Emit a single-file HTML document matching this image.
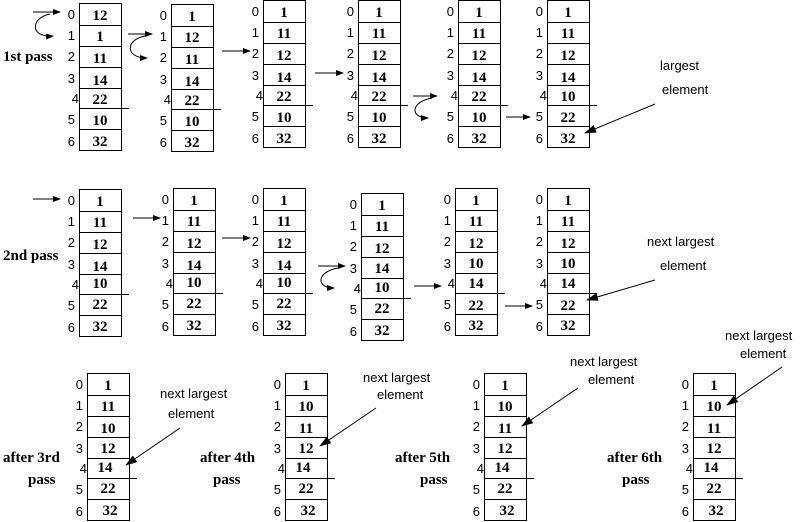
<!DOCTYPE html>
<html><head><meta charset="utf-8"><style>
html,body{margin:0;padding:0;background:#fff}
svg{display:block}
.v{font-family:"Liberation Serif",serif;font-weight:bold;font-size:15px;text-anchor:middle}
.i{font-family:"Liberation Sans",sans-serif;font-size:13px;text-anchor:end}
.l{font-family:"Liberation Serif",serif;font-weight:bold;font-size:15px}
.s{font-family:"Liberation Sans",sans-serif;font-size:13px}
</style></head><body>
<svg width="803" height="522" viewBox="0 0 803 522" xmlns="http://www.w3.org/2000/svg">
<defs>
<marker id="a" markerWidth="8" markerHeight="6" refX="7" refY="3" orient="auto" markerUnits="userSpaceOnUse"><path d="M0,0 L8,3 L0,6 z" fill="#000"/></marker>
<marker id="b" markerWidth="12" markerHeight="10" refX="11" refY="5" orient="auto" markerUnits="userSpaceOnUse"><path d="M0,1 L12,5 L0,9 z" fill="#000"/></marker>
<g id="box" fill="none" stroke="#000" stroke-width="1">
<rect x="0.5" y="0.5" width="42" height="147"/>
<path d="M0,22.5H42M0,43.5H42M0,64.5H42M0,85.5H42M0,105.5H50M0,126.5H42"/>
</g>
<g id="idx" class="i">
<text x="-4" y="16">0</text><text x="-4" y="37">1</text><text x="-4" y="58">2</text><text x="-4" y="80">3</text><text x="0" y="100">4</text><text x="-4" y="121">5</text><text x="-4" y="143">6</text>
</g>
</defs>
<g stroke="#000" fill="none" stroke-width="1">
</g>

<!-- Row 1 -->
<text class="l" x="3" y="61">1st pass</text>
<g transform="translate(79,3)"><use href="#box"/><use href="#idx"/><g class="v"><text x="21" y="17">12</text><text x="21" y="38">1</text><text x="21" y="60">11</text><text x="21" y="82">14</text><text x="21" y="101">22</text><text x="21" y="122">10</text><text x="21" y="143">32</text></g></g>
<g transform="translate(171,4)"><use href="#box"/><use href="#idx"/><g class="v"><text x="21" y="17">1</text><text x="21" y="38">12</text><text x="21" y="60">11</text><text x="21" y="82">14</text><text x="21" y="101">22</text><text x="21" y="122">10</text><text x="21" y="143">32</text></g></g>
<g transform="translate(263,0)"><use href="#box"/><use href="#idx"/><g class="v"><text x="21" y="17">1</text><text x="21" y="38">11</text><text x="21" y="60">12</text><text x="21" y="82">14</text><text x="21" y="101">22</text><text x="21" y="122">10</text><text x="21" y="143">32</text></g></g>
<g transform="translate(358,0)"><use href="#box"/><use href="#idx"/><g class="v"><text x="21" y="17">1</text><text x="21" y="38">11</text><text x="21" y="60">12</text><text x="21" y="82">14</text><text x="21" y="101">22</text><text x="21" y="122">10</text><text x="21" y="143">32</text></g></g>
<g transform="translate(458,0)"><use href="#box"/><use href="#idx"/><g class="v"><text x="21" y="17">1</text><text x="21" y="38">11</text><text x="21" y="60">12</text><text x="21" y="82">14</text><text x="21" y="101">22</text><text x="21" y="122">10</text><text x="21" y="143">32</text></g></g>
<g transform="translate(547,0)"><use href="#box"/><use href="#idx"/><g class="v"><text x="21" y="17">1</text><text x="21" y="38">11</text><text x="21" y="60">12</text><text x="21" y="82">14</text><text x="21" y="101">10</text><text x="21" y="122">22</text><text x="21" y="143">32</text></g></g>
<text class="s" x="660" y="70">largest</text>
<text class="s" x="662" y="94">element</text>

<g stroke="#000" fill="none" stroke-width="1">
<path d="M33,12H60" marker-end="url(#a)"/>
<path d="M50,14 C30,18 30,38 53,36" marker-end="url(#a)"/>
<path d="M128,34H152" marker-end="url(#a)"/>
<path d="M145,36 C125,40 125,58 147,58" marker-end="url(#a)"/>
<path d="M222,51H250" marker-end="url(#a)"/>
<path d="M315,73H343" marker-end="url(#a)"/>
<path d="M413,96H437" marker-end="url(#a)"/>
<path d="M432,98 C410,102 410,118 428,118" marker-end="url(#a)"/>
<path d="M506,117H530" marker-end="url(#a)"/>
<path d="M655,104L585,133" marker-end="url(#b)"/>
</g>

<!-- Row 2 -->
<text class="l" x="3" y="260">2nd pass</text>
<g transform="translate(79,189)"><use href="#box"/><use href="#idx"/><g class="v"><text x="21" y="17">1</text><text x="21" y="38">11</text><text x="21" y="60">12</text><text x="21" y="82">14</text><text x="21" y="99">10</text><text x="21" y="120">22</text><text x="21" y="142">32</text></g></g>
<g transform="translate(173,188)"><use href="#box"/><use href="#idx"/><g class="v"><text x="21" y="17">1</text><text x="21" y="38">11</text><text x="21" y="60">12</text><text x="21" y="82">14</text><text x="21" y="99">10</text><text x="21" y="120">22</text><text x="21" y="142">32</text></g></g>
<g transform="translate(263,188)"><use href="#box"/><use href="#idx"/><g class="v"><text x="21" y="17">1</text><text x="21" y="38">11</text><text x="21" y="60">12</text><text x="21" y="82">14</text><text x="21" y="99">10</text><text x="21" y="120">22</text><text x="21" y="142">32</text></g></g>
<g transform="translate(361,193)"><use href="#box"/><use href="#idx"/><g class="v"><text x="21" y="17">1</text><text x="21" y="38">11</text><text x="21" y="60">12</text><text x="21" y="80">14</text><text x="21" y="99">10</text><text x="21" y="120">22</text><text x="21" y="142">32</text></g></g>
<g transform="translate(455,188)"><use href="#box"/><use href="#idx"/><g class="v"><text x="21" y="17">1</text><text x="21" y="38">11</text><text x="21" y="60">12</text><text x="21" y="80">10</text><text x="21" y="100">14</text><text x="21" y="122">22</text><text x="21" y="142">32</text></g></g>
<g transform="translate(547,188)"><use href="#box"/><use href="#idx"/><g class="v"><text x="21" y="17">1</text><text x="21" y="38">11</text><text x="21" y="60">12</text><text x="21" y="80">10</text><text x="21" y="100">14</text><text x="21" y="122">22</text><text x="21" y="142">32</text></g></g>
<text class="s" x="647" y="246">next largest</text>
<text class="s" x="660" y="270">element</text>

<g stroke="#000" fill="none" stroke-width="1">
<path d="M33,199H60" marker-end="url(#a)"/>
<path d="M133,218H160" marker-end="url(#a)"/>
<path d="M222,238H250" marker-end="url(#a)"/>
<path d="M318,266H345" marker-end="url(#a)"/>
<path d="M338,268 C316,272 316,288 334,288" marker-end="url(#a)"/>
<path d="M414,286H441" marker-end="url(#a)"/>
<path d="M505,306H532" marker-end="url(#a)"/>
<path d="M655,280L587,300" marker-end="url(#b)"/>
</g>

<!-- Row 3 -->
<text class="l" x="3" y="462">after 3rd</text><text class="l" x="28" y="484">pass</text>
<text class="l" x="200" y="462">after 4th</text><text class="l" x="213" y="484">pass</text>
<text class="l" x="395" y="462">after 5th</text><text class="l" x="420" y="484">pass</text>
<text class="l" x="607" y="462">after 6th</text><text class="l" x="622" y="484">pass</text>

<g transform="translate(87,373)"><use href="#box"/><use href="#idx"/><g class="v"><text x="21" y="17">1</text><text x="21" y="38">11</text><text x="21" y="60">10</text><text x="21" y="80">12</text><text x="18" y="99">14</text><text x="21" y="120">22</text><text x="23" y="142">32</text></g></g>
<g transform="translate(285,373)"><use href="#box"/><use href="#idx"/><g class="v"><text x="21" y="17">1</text><text x="21" y="38">10</text><text x="21" y="60">11</text><text x="21" y="80">12</text><text x="18" y="99">14</text><text x="21" y="120">22</text><text x="23" y="142">32</text></g></g>
<g transform="translate(484,373)"><use href="#box"/><use href="#idx"/><g class="v"><text x="21" y="17">1</text><text x="21" y="38">10</text><text x="21" y="60">11</text><text x="21" y="80">12</text><text x="18" y="99">14</text><text x="21" y="120">22</text><text x="23" y="142">32</text></g></g>
<g transform="translate(693,373)"><use href="#box"/><use href="#idx"/><g class="v"><text x="21" y="17">1</text><text x="21" y="38">10</text><text x="21" y="60">11</text><text x="21" y="80">12</text><text x="18" y="99">14</text><text x="21" y="120">22</text><text x="23" y="142">32</text></g></g>

<text class="s" x="160" y="398">next largest</text><text class="s" x="168" y="418">element</text>
<text class="s" x="363" y="382">next largest</text><text class="s" x="377" y="399">element</text>
<text class="s" x="570" y="366">next largest</text><text class="s" x="588" y="384">element</text>
<text class="s" x="725" y="340">next largest</text><text class="s" x="740" y="358">element</text>
<g stroke="#000" fill="none" stroke-width="1">
<path d="M180,428L126,465" marker-end="url(#b)"/>
<path d="M376,408L320,446" marker-end="url(#b)"/>
<path d="M578,388L522,426" marker-end="url(#b)"/>
<path d="M782,367L727,405" marker-end="url(#b)"/>
</g>
</svg>
</body></html>
